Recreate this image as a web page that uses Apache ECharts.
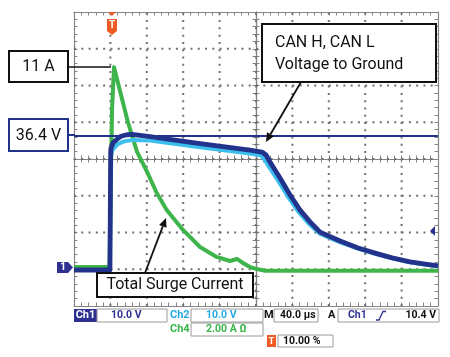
<!DOCTYPE html>
<html>
<head>
<meta charset="utf-8">
<script src="https://cdn.jsdelivr.net/npm/echarts@6/dist/echarts.min.js"></script>
<style>html,body{margin:0;padding:0;background:#fff;}#c{width:450px;height:357px;}</style>
</head>
<body>
<div id="c"></div>
<script>
// ---- Data (time in µs, trigger at 0) ----
const ch1Time = [-40, -0.5, 0.3, 0.7, 2.9, 7.3, 11.6, 18.2, 23.7, 43.5, 98.5, 153.4, 166.6, 171, 175.4, 186.4, 197.4, 208.4, 219.4, 230.4, 252.4, 272.2, 290.9, 309.6, 329.3, 345.8, 360];
const ch1Volt = [-0.2, -0.2, 32.0, 33.0, 34.4, 35.4, 36.2, 36.6, 36.7, 36.1, 34.2, 32.4, 31.9, 31.1, 29.2, 24.8, 20.2, 16.1, 12.9, 10.1, 7.7, 5.8, 4.4, 3.1, 2.0, 1.4, 0.9];

const ch2Time = [-40, -0.5, 0.5, 3, 8, 15, 25, 43.5, 98.5, 153, 165, 169, 174, 185, 196, 207, 218, 230, 252, 272, 291, 310, 329, 346, 360];
const ch2Volt = [-0.2, -0.2, 31.0, 32.8, 34.0, 34.8, 35.2, 35.0, 33.2, 31.5, 31.0, 30.0, 28.0, 23.8, 19.4, 15.5, 12.4, 9.7, 7.4, 5.6, 4.2, 3.0, 1.9, 1.3, 0.8];

const ch4Time = [-40, -1.0, 0.1, 1.8, 4.0, 9.5, 19.3, 29.2, 41.3, 50.9, 61.9, 79.8, 98.5, 116.8, 131.4, 139.1, 145.7, 153.4, 161.1, 169.9, 360];
const ch4Amp  = [0.12, 0.12, 3.8, 8.7, 11.0, 9.9, 8.0, 6.4, 5.2, 4.15, 3.22, 2.14, 1.21, 0.67, 0.45, 0.56, 0.34, 0.12, 0.01, -0.08, -0.08];

// graticule divisions (40 µs/div, 10 V/div)
const gridTimes = [0, 40, 80, 120, 160, 200, 240, 280, 320];
const gridVolts = [0, 10, 20, 30, 40, 50, 60];

const refVoltage = 36.4;     // annotated level
const triggerLevel = 10.4;   // V

const labelPeak = '11 A';
const labelRef = '36.4 V';
const labelCan = ['CAN H, CAN L', 'Voltage to Ground'];
const labelSurge = 'Total Surge Current';

const pairs = (xs, ys) => xs.map((x, i) => [x, ys[i]]);

const T_MIN = -40, T_MAX = 360, V_MIN = -10, V_MAX = 70;
const BLUE = '#22338c', CYAN = '#3cbfec', GREEN = '#3db54a', ORANGE = '#f15a24', GREY = '#858585';
const SB_BLUE = '#2e3192', SB_CYAN = '#27aae1', SB_GREEN = '#39b54a';
const DOT = { stroke: '#707070', fill: null, lineWidth: 2, lineDash: [2, 5.28], opacity: 1 };

function xAx(extra) {
  return Object.assign({
    type: 'value', min: T_MIN, max: T_MAX, interval: 40,
    axisLine: { show: true, onZero: false, lineStyle: { color: GREY, width: 1.2 } },
    axisTick: { show: true, inside: true, length: 3.5, lineStyle: { color: GREY } },
    minorTick: { show: true, splitNumber: 5, length: 3.5, lineStyle: { color: GREY } },
    axisLabel: { show: false },
    splitLine: { show: false }
  }, extra);
}
function yAx(extra) {
  return Object.assign({
    type: 'value', min: V_MIN, max: V_MAX, interval: 10,
    axisLine: { show: true, onZero: false, lineStyle: { color: GREY, width: 1.2 } },
    axisTick: { show: true, inside: true, length: 3.5, lineStyle: { color: GREY } },
    minorTick: { show: true, splitNumber: 5, length: 3.5, lineStyle: { color: GREY } },
    axisLabel: { show: false },
    splitLine: { show: false }
  }, extra);
}

const font = (s, w) => (w || 'normal') + ' ' + s + 'px Roboto';
function txt(t, x, y, f, fill, align, z) {
  return { type: 'text', z: z || 100, style: { text: t, x: x, y: y, font: f, fill: fill,
    textAlign: align || 'left', align: align || 'left', textVerticalAlign: 'middle', verticalAlign: 'middle' } };
}
function box(x, y, w, h, stroke, lw, fill) {
  return { type: 'rect', z: 99, shape: { x: x, y: y, width: w, height: h },
    style: { fill: fill || '#fff', stroke: stroke, lineWidth: lw } };
}
function line(x1, y1, x2, y2, c, w) {
  return { type: 'line', z: 100, shape: { x1: x1, y1: y1, x2: x2, y2: y2 }, style: { stroke: c, lineWidth: w } };
}
function poly(pts, fill) {
  return { type: 'polygon', z: 100, shape: { points: pts }, style: { fill: fill } };
}

const graphics = [
  box(9, 51, 59, 31, '#111', 2), txt(labelPeak, 38.5, 67, font(16), '#111', 'center'),
  line(68, 67, 111, 67, '#111', 1.5),
  box(9, 119, 59, 32, BLUE, 2), txt(labelRef, 38.5, 135.5, font(16), '#111', 'center'),
  line(68, 135, 75, 135, BLUE, 2),
  box(262, 24, 174, 58, '#111', 2),
  txt(labelCan[0], 275, 43, font(16), '#111'), txt(labelCan[1], 275, 65, font(16), '#111'),
  line(301, 82, 270.5, 134.2, '#111', 1.8), poly([[266, 142], [274, 136.2], [267, 132.2]], '#111'),
  box(97, 273, 156, 24, '#111', 2), txt(labelSurge, 175, 285, font(16), '#111', 'center'),
  line(145, 273, 162.8, 226.4, '#111', 1.8), poly([[166, 218], [166.5, 227.8], [159.1, 225.0]], '#111'),
  poly([[108, 12], [116, 12], [112, 16]], ORANGE),
  poly([[107, 19], [117, 19], [117, 31], [112, 35], [107, 31]], ORANGE),
  txt('T', 112, 25.5, font(10, 'bold'), '#fff', 'center'),
  poly([[57, 262], [68, 262], [73, 267.5], [68, 273], [57, 273]], SB_BLUE),
  txt('1', 63, 267.5, font(10, 'bold'), '#fff', 'center'),
  poly([[430, 231], [435, 226], [435, 236]], SB_BLUE),
  { type: 'rect', z: 99, shape: { x: 74, y: 309, width: 23, height: 13 }, style: { fill: SB_BLUE } },
  txt('Ch1', 85.5, 315.5, font(11, 'bold'), '#fff', 'center'),
  box(97, 309, 70, 13, '#9a9a9a', 1), txt('10.0 V', 111, 315.5, font(10.5, 'bold'), SB_BLUE),
  txt('Ch2', 170, 315.5, font(11, 'bold'), SB_CYAN),
  box(191, 309, 72, 13, '#9a9a9a', 1), txt('10.0 V', 206, 315.5, font(10.5, 'bold'), SB_CYAN),
  txt('M', 264, 315.5, font(11, 'bold'), '#111'),
  box(274, 309, 44, 13, '#9a9a9a', 1), txt('40.0 µs', 280, 315.5, font(10.5, 'bold'), '#111'),
  txt('A', 328, 315.5, font(11, 'bold'), '#111'),
  box(338, 309, 101, 13, '#9a9a9a', 1), txt('Ch1', 348, 315.5, font(10.5, 'bold'), SB_BLUE),
  { type: 'polyline', z: 100, shape: { points: [[376, 320], [379, 320], [383, 311.5], [386, 311.5]] }, style: { stroke: SB_BLUE, lineWidth: 1.3, fill: null } },
  txt('10.4 V', 436, 315.5, font(10.5, 'bold'), '#111', 'right'),
  txt('Ch4', 170, 329.5, font(11, 'bold'), SB_GREEN),
  box(191, 323, 72, 13, '#9a9a9a', 1), txt('2.00 A Ω', 206, 329.5, font(10.5, 'bold'), SB_GREEN),
  { type: 'rect', z: 99, shape: { x: 267, y: 335, width: 9, height: 12 }, style: { fill: ORANGE } },
  txt('T', 271.5, 341.5, font(9.5, 'bold'), '#fff', 'center'),
  box(278, 335, 55, 12, '#9a9a9a', 1), txt('10.00 %', 283, 341.5, font(10.5, 'bold'), '#111')
];

const chart = echarts.init(document.getElementById('c'), null, { renderer: 'canvas' });
chart.setOption({
  animation: false,
  backgroundColor: '#fff',
  grid: { left: 74, top: 12, width: 364, height: 294, containLabel: false, outerBoundsMode: 'none' },
  xAxis: [
    xAx({ position: 'bottom' }),
    xAx({ position: 'top' }),
    xAx({ position: 'bottom', offset: -147 }),
    xAx({ position: 'bottom', offset: -147, axisTick: { show: true, inside: false, length: 3.5, lineStyle: { color: GREY } } })
  ],
  yAxis: [
    yAx({ position: 'left' }),
    { type: 'value', min: -2, max: 14, show: false },
    yAx({ position: 'right' }),
    yAx({ position: 'left', offset: -182 }),
    yAx({ position: 'left', offset: -182, axisTick: { show: true, inside: false, length: 3.5, lineStyle: { color: GREY } } })
  ],
  series: [
    { name: 'gridV', type: 'custom', silent: true, z: 1, xAxisIndex: 0, yAxisIndex: 0, clip: false,
      data: gridTimes.map(t => [t, V_MIN]),
      renderItem: (params, api) => {
        const a = api.coord([api.value(0), V_MIN]), b = api.coord([api.value(0), V_MAX]);
        return { type: 'line', shape: { x1: a[0], y1: a[1], x2: b[0], y2: b[1] }, style: DOT };
      } },
    { name: 'gridH', type: 'custom', silent: true, z: 1, xAxisIndex: 0, yAxisIndex: 0, clip: false,
      data: gridVolts.map(v => [T_MIN, v]),
      renderItem: (params, api) => {
        const a = api.coord([T_MIN, api.value(1)]), b = api.coord([T_MAX, api.value(1)]);
        return { type: 'line', shape: { x1: a[0], y1: a[1], x2: b[0], y2: b[1] }, style: DOT };
      } },
    { name: 'Ch4', type: 'line', xAxisIndex: 0, yAxisIndex: 1, data: pairs(ch4Time, ch4Amp),
      showSymbol: false, z: 3, lineStyle: { color: GREEN, width: 4, join: 'round' } },
    { name: 'Ch2', type: 'line', xAxisIndex: 0, yAxisIndex: 0, data: pairs(ch2Time, ch2Volt),
      showSymbol: false, z: 4, lineStyle: { color: CYAN, width: 4, join: 'round' } },
    { name: 'Ch1', type: 'line', xAxisIndex: 0, yAxisIndex: 0, data: pairs(ch1Time, ch1Volt),
      showSymbol: false, z: 5, lineStyle: { color: BLUE, width: 4.8, join: 'round' },
      markLine: { silent: true, symbol: 'none', label: { show: false }, z: 6,
        lineStyle: { color: BLUE, width: 2, type: 'solid' }, data: [{ yAxis: refVoltage }] } }
  ],
  graphic: graphics
});
</script>
</body>
</html>
